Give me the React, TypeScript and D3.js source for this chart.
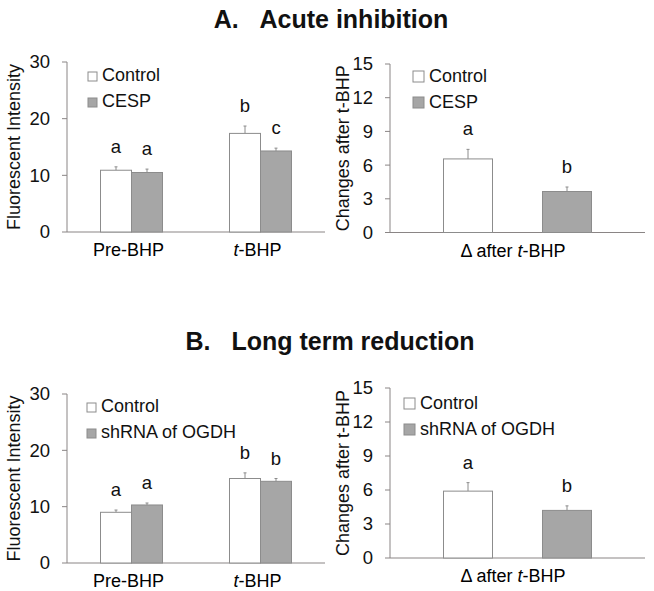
import React from 'react';
import * as d3 from 'd3';

// values
const groups = ['Pre-BHP', 't-BHP'];
const acuteSeries = ['Control', 'CESP'];
const acuteControl = [10.9, 17.4];
const acuteControlErr = [0.6, 1.3];
const acuteCesp = [10.5, 14.3];
const acuteCespErr = [0.6, 0.5];
const acuteLetters = [['a', 'b'], ['a', 'c']];

const acuteDelta = [6.55, 3.65];
const acuteDeltaErr = [0.85, 0.4];
const acuteDeltaLetters = ['a', 'b'];

const longSeries = ['Control', 'shRNA of OGDH'];
const longControl = [9.0, 15.0];
const longControlErr = [0.4, 1.0];
const longShrna = [10.3, 14.5];
const longShrnaErr = [0.35, 0.5];
const longLetters = [['a', 'b'], ['a', 'b']];

const longDelta = [5.9, 4.2];
const longDeltaErr = [0.75, 0.4];
const longDeltaLetters = ['a', 'b'];

const leftTicks = [0, 10, 20, 30];
const rightTicks = [0, 3, 6, 9, 12, 15];

const FONT = '"Liberation Sans", Arial, sans-serif';
const AXIS = '#8a8585';
const STROKE = '#8c8c8c';
const FILLS = ['#ffffff', '#a6a6a6'];

const Label = ({ cat, x, y }) => {
  const italicT = cat.startsWith('t-');
  const isDelta = cat === 'delta';
  return (
    <text x={x} y={y} textAnchor="middle" fontSize={18} fontFamily={FONT}>
      {isDelta ? (
        <>
          {'\u0394 after '}
          <tspan fontStyle="italic">t</tspan>-BHP
        </>
      ) : italicT ? (
        <>
          <tspan fontStyle="italic">t</tspan>
          {cat.slice(1)}
        </>
      ) : (
        cat
      )}
    </text>
  );
};

const Panel = ({ layout, cats, series, values, errs, letters, ticks, yLabel, legendBox, barW, spread, labelX }) => {
  const { x0, x1, yTop, yBottom, yMax } = layout;
  const y = d3.scaleLinear().domain([0, yMax]).range([yBottom, yTop]);
  const xBand = d3.scaleBand().domain(cats).range([x0, x1]);
  const xSub = d3.scalePoint().domain(series).range([-spread, spread]);
  const legendX = layout.legendX;
  return (
    <g>
      {/* axes */}
      <line x1={x0} x2={x0} y1={yTop} y2={yBottom} stroke={AXIS} strokeWidth={1} />
      <line x1={x0} x2={x1} y1={yBottom} y2={yBottom} stroke={AXIS} strokeWidth={1} />
      {ticks.map((t) => (
        <g key={t}>
          <line x1={x0 - 5} x2={x0} y1={y(t)} y2={y(t)} stroke={AXIS} />
          <text x={x0 - 17} y={y(t)} dy="0.35em" textAnchor="end" fontSize={18.5} fontFamily={FONT} fill="#111">
            {t}
          </text>
        </g>
      ))}
      <text
        transform={`translate(${layout.yLabelX},${(yTop + yBottom) / 2}) rotate(-90)`}
        textAnchor="middle"
        dy="0.35em"
        fontSize={18}
        fontFamily={FONT}
        fill="#111"
      >
        {yLabel}
      </text>
      {/* bars */}
      {series.map((s, si) =>
        cats.map((c, ci) => {
          const cx = xBand(c) + xBand.bandwidth() / 2 + xSub(s);
          const v = values[si][ci];
          const e = errs[si][ci];
          return (
            <g key={s + c}>
              <line x1={cx} x2={cx} y1={y(v)} y2={y(v + e)} stroke={STROKE} strokeWidth={1} />
              <line x1={cx - 1.5} x2={cx + 1.5} y1={y(v + e)} y2={y(v + e)} stroke={STROKE} strokeWidth={1} />
              <rect x={cx - barW / 2} y={y(v)} width={barW} height={yBottom - y(v)} fill={FILLS[si]} stroke={STROKE} strokeWidth={1} />
              <text x={cx} y={y(v + e) - 14} textAnchor="middle" fontSize={18.5} fontFamily={FONT} fill="#111">
                {letters[si][ci]}
              </text>
            </g>
          );
        })
      )}
      {/* category labels */}
      {cats.map((c) => (
        <Label key={c} cat={c} x={labelX ?? xBand(c) + xBand.bandwidth() / 2 - 3} y={yBottom + 24} />
      ))}
      {/* legend */}
      {series.map((s, si) => (
        <g key={s}>
          <rect
            x={legendX}
            y={layout.legendY + si * 26 - legendBox}
            width={legendBox}
            height={legendBox}
            fill={FILLS[si]}
            stroke={STROKE}
          />
          <text x={legendX + legendBox + 5} y={layout.legendY + si * 26} fontSize={18} fontFamily={FONT} fill="#111">
            {s}
          </text>
        </g>
      ))}
    </g>
  );
};

export default function App() {
  return (
    <svg width={654} height={591} style={{ position: 'absolute', left: 0, top: 0, background: '#fff' }}>
      <text x={331} y={28} textAnchor="middle" fontSize={25} fontWeight="bold" fontFamily={FONT} fill="#111">
        A.{'\u00a0\u00a0\u00a0'}Acute inhibition
      </text>
      <text x={330} y={350} textAnchor="middle" fontSize={25} fontWeight="bold" fontFamily={FONT} fill="#111">
        B.{'\u00a0\u00a0\u00a0'}Long term reduction
      </text>

      <Panel
        layout={{ x0: 67, x1: 325, yTop: 62, yBottom: 232, yMax: 30, yLabelX: 14, legendX: 88, legendY: 81 }}
        cats={groups}
        series={acuteSeries}
        values={[acuteControl, acuteCesp]}
        errs={[acuteControlErr, acuteCespErr]}
        letters={acuteLetters}
        ticks={leftTicks}
        yLabel="Fluorescent Intensity"
        legendBox={9}
        barW={31}
        spread={15.5}
      />
      <Panel
        layout={{ x0: 390, x1: 645, yTop: 64, yBottom: 232.5, yMax: 15, yLabelX: 343, legendX: 413, legendY: 82 }}
        cats={['delta']}
        series={acuteSeries}
        values={acuteDelta.map((d) => [d])}
        errs={acuteDeltaErr.map((d) => [d])}
        letters={acuteDeltaLetters.map((d) => [d])}
        ticks={rightTicks}
        yLabel="Changes after t-BHP"
        legendBox={11}
        barW={49}
        spread={49.5}
        labelX={513}
      />
      <Panel
        layout={{ x0: 67, x1: 325, yTop: 394, yBottom: 563, yMax: 30, yLabelX: 14, legendX: 87, legendY: 412 }}
        cats={groups}
        series={longSeries}
        values={[longControl, longShrna]}
        errs={[longControlErr, longShrnaErr]}
        letters={longLetters}
        ticks={leftTicks}
        yLabel="Fluorescent Intensity"
        legendBox={9}
        barW={31}
        spread={15.5}
      />
      <Panel
        layout={{ x0: 390, x1: 645, yTop: 388, yBottom: 558, yMax: 15, yLabelX: 343, legendX: 404, legendY: 409 }}
        cats={['delta']}
        series={longSeries}
        values={longDelta.map((d) => [d])}
        errs={longDeltaErr.map((d) => [d])}
        letters={longDeltaLetters.map((d) => [d])}
        ticks={rightTicks}
        yLabel="Changes after t-BHP"
        legendBox={11}
        barW={49}
        spread={49.5}
        labelX={513}
      />
    </svg>
  );
}
